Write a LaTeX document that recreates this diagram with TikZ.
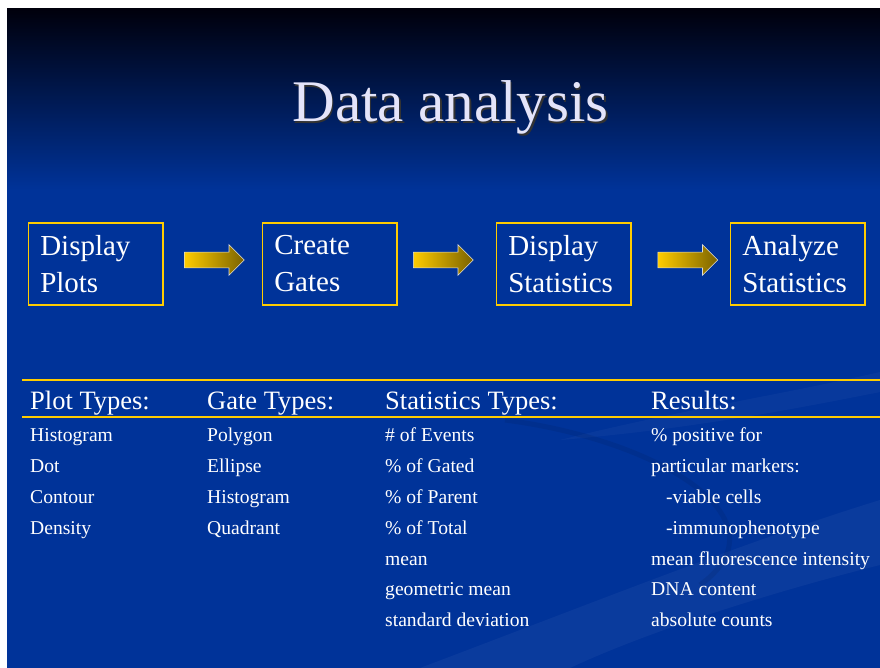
\documentclass[tikz,border=0pt]{standalone}
\usepackage{fontspec}
\setmainfont{Liberation Serif}
\usetikzlibrary{
        positioning,
        shapes.arrows
    }
\definecolor{slideblue}{HTML}{003399}
\definecolor{slidetop}{HTML}{00000C}
\definecolor{rulegold}{HTML}{FFCC00}
\definecolor{arrowdark}{HTML}{7A6200}
\definecolor{titletint}{HTML}{E4E4FA}
\tikzset{x=1pt,y=-1pt}
\tikzset{stepbox/.style={draw=rulegold,line width=1.5pt,text=white,minimum width=134.5pt,minimum height=82pt,text width=110.5pt,inner xsep=12pt,inner ysep=0pt,align=left,font=\fontsize{29}{37}\selectfont}}
\tikzset{blockarrow/.style={single arrow,anchor=tail,single arrow head extend=7.5pt,minimum height=60pt,minimum width=30pt,inner xsep=0pt,inner ysep=7.5pt,left color=rulegold,right color=arrowdark,draw=white!75!gray,line width=0.6pt}}
\tikzset{colhead/.style={anchor=base west,inner sep=0pt,text=white,font=\fontsize{26.5}{30}\selectfont}}
\tikzset{colitem/.style={anchor=base west,inner sep=0pt,text=white,font=\fontsize{19.6}{23}\selectfont}}

\begin{document}
\begin{tikzpicture}
            \useasboundingbox (0,0) rectangle (880,668);
            % slide background
            \fill[white] (0,0) rectangle (880,668);
            \fill[slideblue] (7,9) rectangle (880,668);
            \shade[top color=slidetop,bottom color=slideblue] (7,9) rectangle (880,190);
            \fill[white,opacity=0.04] (420,668) .. controls (600,600) and (750,540) .. (880,500) -- (880,565) .. controls (760,595) and (640,635) .. (570,668) -- cycle;
            \fill[white,opacity=0.03] (560,440) .. controls (680,410) and (780,395) .. (880,372) -- (880,392) .. controls (780,412) and (680,430) .. (560,440) -- cycle;
            \draw[black,opacity=0.07,line width=5pt] (505,420) .. controls (660,440) and (790,520) .. (700,585);
            % title
            \node[font=\fontsize{59}{70}\selectfont,text=black!80,anchor=base,inner sep=0pt] (titleshadow) at (452,123.5) {Data analysis};
            \node[font=\fontsize{59}{70}\selectfont,text=titletint,anchor=base,inner sep=0pt] (title) at (450.5,122) {Data analysis};
            % steps
            \node[stepbox] (plots) at (95.5,264) {Display\\Plots};
            \node[stepbox] (gates) [right=98pt of plots] {Create\\Gates};
            \node[stepbox] (stats) [right=98pt of gates] {Display\\Statistics};
            \node[stepbox] (analyze) [right=98pt of stats] {Analyze\\Statistics};
            \node[blockarrow] (arrowa) at (184,260) {};
            \node[blockarrow] (arrowb) at (413,260) {};
            \node[blockarrow] (arrowc) at (657.5,260) {};
            % table
            \draw[rulegold,line width=2pt] (22,380) -- (880,380);
            \draw[rulegold,line width=2pt] (22,417) -- (880,417);
            \node[colhead] (plothead) at (30,409) {Plot Types:};
            \node[colhead] (gatehead) at (207,409) {Gate Types:};
            \node[colhead] (statshead) at (385,409) {Statistics Types:};
            \node[colhead] (resulthead) at (651,409) {Results:};
            \foreach \txt [count=\i] in {Histogram,Dot,Contour,Density}
                \node[colitem] (plot\i) at (30,411+30.8*\i) {\txt};
            \foreach \txt [count=\i] in {Polygon,Ellipse,Histogram,Quadrant}
                \node[colitem] (gate\i) at (207,411+30.8*\i) {\txt};
            \foreach \txt [count=\i] in {\# of Events,\% of Gated,\% of Parent,\% of Total,mean,geometric mean,standard deviation}
                \node[colitem] (stat\i) at (385,411+30.8*\i) {\txt};
            \foreach \txt/\dx [count=\i] in {\% positive for/0,particular markers:/0,-viable cells/15,-immunophenotype/15,mean fluorescence intensity/0,DNA content/0,absolute counts/0}
                \node[colitem] (result\i) at (651+\dx,411+30.8*\i) {\txt};
        \end{tikzpicture}
\end{document}
